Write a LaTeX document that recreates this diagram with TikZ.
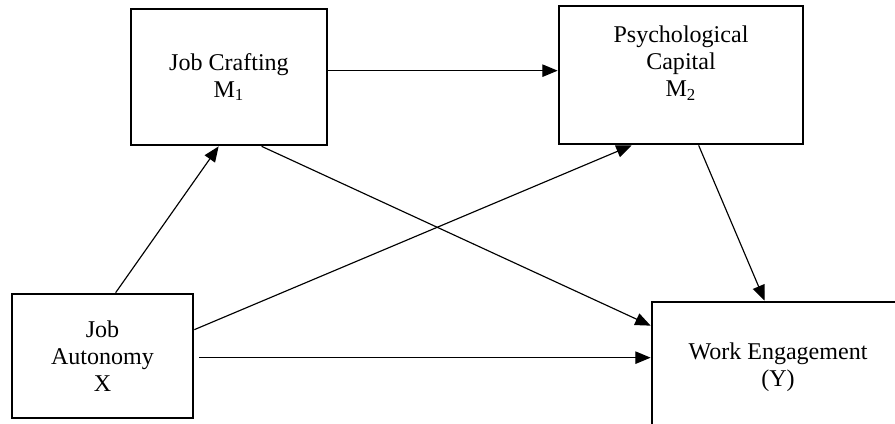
\documentclass[tikz,border=0pt]{standalone}
\usepackage{fontspec}
\setmainfont{Liberation Serif}
\usetikzlibrary{arrows.meta,calc}

\begin{document}
\begin{tikzpicture}[x=.52pt,y=-.52pt,
	box/.style={draw,line width=1.4pt,inner sep=0pt,align=center,font=\fontsize{12.5}{14.2}\selectfont},
	txt/.style={align=center,inner sep=0pt,font=\fontsize{12.5}{14.2}\selectfont},
	link/.style={line width=.6pt,-{Triangle[length=8pt,width=6.5pt]}}]
			\useasboundingbox (0,0) rectangle (895,424);
			\clip (0,0) rectangle (895,424);
			\node[box,minimum width=196*.52pt,minimum height=136*.52pt] (jc) at (229,77) {Job Crafting\\M\textsubscript{1}};
			\node[box,minimum width=244*.52pt,minimum height=138*.52pt] (pc) at (681,75) {};
			\node[txt] (pct) at (681,63) {Psychological\\Capital\\M\textsubscript{2}};
			\node[box,minimum width=181*.52pt,minimum height=124*.52pt] (ja) at (102.5,356) {Job\\Autonomy\\X};
			\node[box,minimum width=252*.52pt,minimum height=130*.52pt] (we) at (778,367) {Work Engagement\\(Y)};
			\draw[link] ($(ja.north west)+(105,0)$) -- ($(jc.south west)+(89,0)$);
			\draw[link] ($(jc.north east)+(0,63)$) -- ($(pc.north west)+(0,66)$);
			\draw[link] ($(jc.south west)+(132,0)$) -- ($(we.north west)+(0,25)$);
			\draw[link] ($(ja.north east)+(0,37)$) -- ($(pc.south west)+(74,0)$);
			\draw[link] ($(pc.south west)+(141,0)$) -- ($(we.north west)+(114,0)$);
			\draw[link] ($(ja.north east)+(5,65)$) -- ($(we.north west)+(0,57)$);
		\end{tikzpicture}
\end{document}
